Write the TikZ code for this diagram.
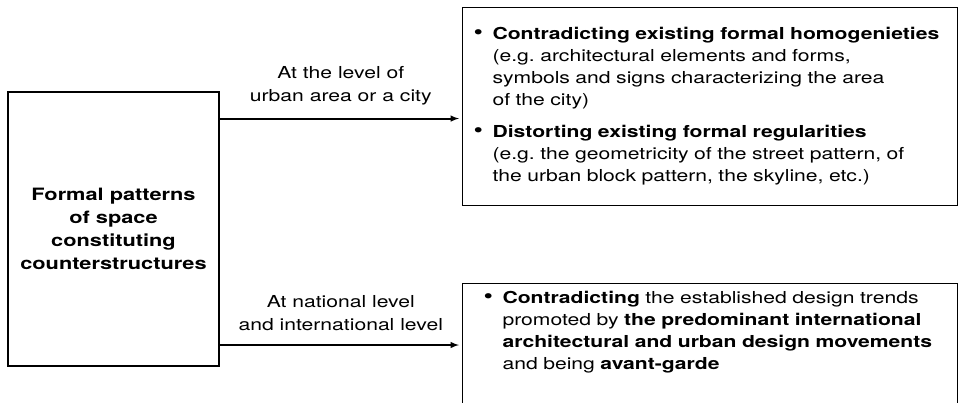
\documentclass[tikz,border=0pt]{standalone}
\usepackage{fontspec}
\setmainfont{TeX Gyre Heros}[FakeStretch=1.28]
\usetikzlibrary{positioning,arrows,calc}
\frenchspacing

\tikzset{
  frame/.style={draw, line width=1.1pt, inner sep=0pt},
  levelarrow/.style={->, line width=1.9pt, shorten >=3pt},
  levellabel/.style={align=center, inner sep=0pt, font=\fontsize{16.5}{23}\selectfont},
  boxtext/.style={align=left, font=\fontsize{16.5}{22}\selectfont},
}
\newcommand{\itembul}{\makebox[19pt][l]{\fontsize{21}{22}\selectfont\textbullet}}
\newcommand{\itemgap}{\hspace*{19pt}}

\begin{document}
\begin{tikzpicture}[>=latex,x=1pt,y=-1pt]
	\clip (0,0) rectangle (961,402);

	\node[frame, minimum width=211pt, minimum height=274pt, align=center,
	  font=\bfseries\fontsize{17}{23}\selectfont] (patterns) at (113.5,229)
	  {Formal patterns\\of space\\constituting\\counterstructures};

	\node[frame, boxtext, anchor=north west, minimum height=198pt,
	  text width=473pt, inner xsep=11pt] (urban) at (462,7)
	  {\itembul\textbf{Contradicting existing formal homogenieties}\\
	   \itemgap(e.g. architectural elements and forms,\\
	   \itemgap symbols and signs characterizing the area\\
	   \itemgap of the city)\\[10pt]
	   \itembul\textbf{Distorting existing formal regularities}\\
	   \itemgap(e.g. the geometricity of the street pattern, of\\
	   \itemgap the urban block pattern, the skyline, etc.)};

	\node[frame, boxtext, anchor=north west, text width=453pt,
	  inner xsep=21pt, inner ysep=8pt] (national) at (462,283)
	  {\itembul\textbf{Contradicting} the established design trends\\
	   \itemgap promoted by \textbf{the predominant international}\\
	   \itemgap\textbf{architectural and urban design movements}\\
	   \itemgap and being \textbf{avant-garde}\rule[-40pt]{0pt}{0pt}};

	\coordinate (cityin) at ($(urban.west)+(0,12)$);
	\coordinate (nationin) at ($(national.north west)+(0,62)$);

	\draw[levelarrow] (patterns.east |- cityin) -- node[levellabel, above=13pt] (citylabel)
	  {At the level of\\urban area or a city} (cityin);
	\draw[levelarrow] (patterns.east |- nationin) -- node[levellabel, above=13pt] (nationlabel)
	  {At national level\\and international level} (nationin);
\end{tikzpicture}
\end{document}
